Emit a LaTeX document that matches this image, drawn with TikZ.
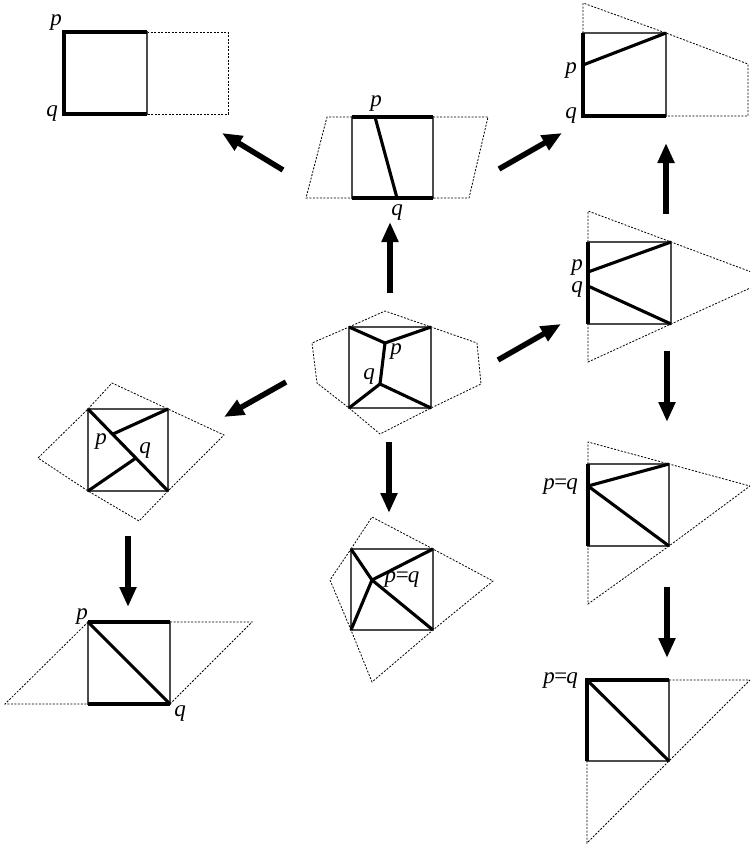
\documentclass[tikz,border=0pt]{standalone}
\usepackage{fontspec}
\setmainfont{Liberation Serif}
\usetikzlibrary{arrows.meta}

\newcommand{\pisq}{p\kern-2pt=\kern-2pt q}

\begin{document}
\begin{tikzpicture}[
        x=1pt, y=-1pt,
        edge/.style={draw=black!70, line width=1.2pt},
        cut/.style={draw=black, line width=3.1pt},
        hull/.style={draw=black, line width=0.8pt, dash pattern=on 2pt off 1.5pt},
        lbl/.style={inner sep=0pt, font=\fontsize{23}{23}\selectfont\itshape},
        move/.style={line width=5.5pt, -{Triangle[length=20pt,width=16pt]}}
    ]
    \clip (0,0) rectangle (750,846);

    % top left
    \draw[hull] (147,32) -- (228,32) -- (228,114) -- (147,114);
    \draw[edge] (64,32) rectangle (147,114);
    \draw[cut] (147,32) -- (64,32) -- (64,114) -- (147,114);
    \node[lbl] (pA) at (56,23)  {p};
    \node[lbl] (qA) at (52,114) {q};

    % top middle
    \draw[hull] (352,117) -- (327,117) -- (306,198) -- (352,198);
    \draw[hull] (433,117) -- (488,117) -- (469,198) -- (433,198);
    \draw[edge] (352,117) rectangle (433,198);
    \coordinate (pB) at (375,117);
    \coordinate (qB) at (397,198);
    \draw[cut] (352,117) -- (433,117);
    \draw[cut] (352,198) -- (433,198);
    \draw[cut] (pB) -- (qB);
    \node[lbl] (pBl) at (376,104) {p};
    \node[lbl] (qBl) at (397,213) {q};

    % top right
    \draw[hull] (583,33) -- (583,3) -- (666,33) -- (748,64) -- (748,116) -- (666,116);
    \draw[edge] (583,33) rectangle (666,116);
    \coordinate (pC) at (583,65);
    \draw[cut] (583,33) -- (583,116) -- (666,116);
    \draw[cut] (pC) -- (666,33);
    \node[lbl] (pCl) at (571,71)  {p};
    \node[lbl] (qCl) at (571,116) {q};

    % centre
    \draw[hull] (349,327) -- (385,311) -- (431,327) -- (477,343) -- (481,384) -- (431,408)
        -- (380,434) -- (349,408) -- (317,383) -- (312,343) -- cycle;
    \draw[edge] (349,327) rectangle (431,408);
    \coordinate (pD) at (385,343);
    \coordinate (qD) at (380,384);
    \draw[cut] (349,327) -- (pD) -- (431,327);
    \draw[cut] (pD) -- (qD);
    \draw[cut] (349,408) -- (qD) -- (431,408);
    \node[lbl] (pDl) at (396,352) {p};
    \node[lbl] (qDl) at (369,377) {q};

    % right, second row
    \draw[hull] (588,242) -- (588,211) -- (671,242) -- (770,279) -- (671,324) -- (588,362) -- (588,324);
    \draw[edge] (588,242) rectangle (671,324);
    \coordinate (pE) at (588,272);
    \coordinate (qE) at (588,286);
    \draw[cut] (588,242) -- (588,324);
    \draw[cut] (pE) -- (671,242);
    \draw[cut] (qE) -- (671,324);
    \node[lbl] (pEl) at (577,268) {p};
    \node[lbl] (qEl) at (577,290) {q};

    % left, second row
    \draw[hull] (88,409) -- (112,383) -- (168,409) -- (224,435) -- (168,491) -- (139,521)
        -- (88,491) -- (38,458) -- cycle;
    \draw[edge] (88,409) rectangle (168,491);
    \coordinate (pF) at (113,434);
    \coordinate (qF) at (136,458);
    \draw[cut] (88,409) -- (168,491);
    \draw[cut] (pF) -- (168,409);
    \draw[cut] (qF) -- (88,491);
    \node[lbl] (pFl) at (101,442) {p};
    \node[lbl] (qFl) at (145,451) {q};

    % centre, below
    \draw[hull] (351,549) -- (372,517) -- (433,549) -- (493,581) -- (433,630) -- (372,682)
        -- (351,630) -- (330,580) -- cycle;
    \draw[edge] (351,549) rectangle (433,630);
    \coordinate (pqG) at (372,580);
    \draw[cut] (351,549) -- (pqG) -- (433,549);
    \draw[cut] (351,630) -- (pqG) -- (433,630);
    \node[lbl] (pqGl) at (402,580) {\pisq};

    % right, third row
    \draw[hull] (588,464) -- (588,442) -- (669,464) -- (750,486) -- (669,546) -- (588,604) -- (588,546);
    \draw[edge] (588,464) rectangle (669,546);
    \coordinate (pqH) at (588,486);
    \draw[cut] (588,464) -- (588,546);
    \draw[cut] (pqH) -- (669,464);
    \draw[cut] (pqH) -- (669,546);
    \node[lbl, anchor=east] (pqHl) at (578,487) {\pisq};

    % bottom left
    \draw[hull] (88,622) -- (5,704) -- (88,704);
    \draw[hull] (170,622) -- (252,622) -- (170,704);
    \draw[edge] (88,622) rectangle (170,704);
    \draw[cut] (88,622) -- (170,622);
    \draw[cut] (88,704) -- (170,704);
    \draw[cut] (88,622) -- (170,704);
    \node[lbl] (pIl) at (82,617)  {p};
    \node[lbl] (qIl) at (180,714) {q};

    % bottom right
    \draw[hull] (669,680) -- (750,680) -- (669,761) -- (587,843) -- (587,761);
    \draw[edge] (587,680) rectangle (669,761);
    \draw[cut] (669,680) -- (587,680) -- (587,761);
    \draw[cut] (587,680) -- (669,761);
    \node[lbl, anchor=east] (pqJl) at (578,681) {\pisq};

    % arrows
    \coordinate (ba0) at (283,170); \coordinate (ba1) at (222,133);
    \coordinate (bc0) at (499,169); \coordinate (bc1) at (562,133);
    \coordinate (db0) at (390,293); \coordinate (db1) at (390,222);
    \coordinate (ec0) at (666,214); \coordinate (ec1) at (666,143);
    \coordinate (de0) at (498,360); \coordinate (de1) at (561,324);
    \coordinate (df0) at (286,382); \coordinate (df1) at (224,417);
    \coordinate (dg0) at (389,442); \coordinate (dg1) at (389,513);
    \coordinate (eh0) at (667,351); \coordinate (eh1) at (667,422);
    \coordinate (fi0) at (128,536); \coordinate (fi1) at (128,607);
    \coordinate (hj0) at (667,587); \coordinate (hj1) at (667,658);
    \draw[move] (ba0) -- (ba1);
    \draw[move] (bc0) -- (bc1);
    \draw[move] (db0) -- (db1);
    \draw[move] (ec0) -- (ec1);
    \draw[move] (de0) -- (de1);
    \draw[move] (df0) -- (df1);
    \draw[move] (dg0) -- (dg1);
    \draw[move] (eh0) -- (eh1);
    \draw[move] (fi0) -- (fi1);
    \draw[move] (hj0) -- (hj1);
\end{tikzpicture}
\end{document}
